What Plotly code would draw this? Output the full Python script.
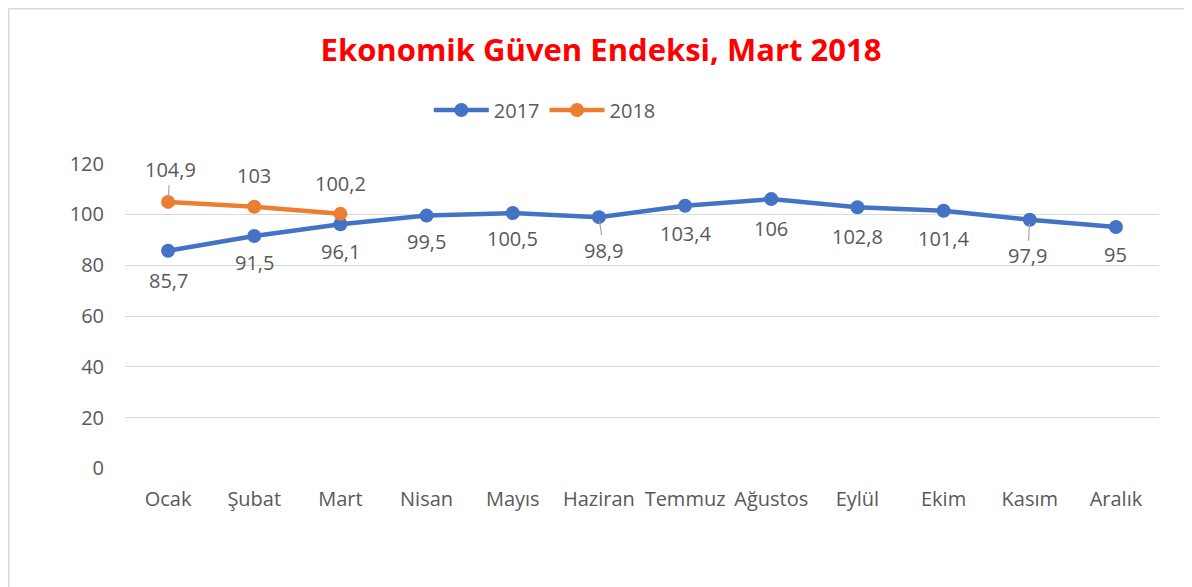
import plotly.graph_objects as go

months = ["Ocak", "Şubat", "Mart", "Nisan", "Mayıs", "Haziran", "Temmuz",
          "Ağustos", "Eylül", "Ekim", "Kasım", "Aralık"]
values_2017 = [85.7, 91.5, 96.1, 99.5, 100.5, 98.9, 103.4, 106, 102.8, 101.4, 97.9, 95]
values_2018 = [104.9, 103, 100.2]
y_ticks = [0, 20, 40, 60, 80, 100, 120]

BLUE = "#4472C4"
ORANGE = "#ED7D31"
TXT = "#595959"
FONT = "'Open Sans', sans-serif"

def fmt(v):
    s = ("%g" % v)
    return s.replace(".", ",")

fig = go.Figure()
fig.add_trace(go.Scatter(x=months, y=values_2017, name="2017", mode="lines+markers",
                         line=dict(color=BLUE, width=4.5),
                         marker=dict(size=14, color=BLUE)))
fig.add_trace(go.Scatter(x=months[:len(values_2018)], y=values_2018, name="2018",
                         mode="lines+markers",
                         line=dict(color=ORANGE, width=4.5),
                         marker=dict(size=14, color=ORANGE)))

# label offsets (pixels) and leader-line flags
off_2017 = [(0, 30), (0, 27), (0, 27), (0, 26), (0, 25), (5, 33), (0, 28),
            (0, 29), (0, 29), (0, 28), (-2, 36), (0, 27)]
lead_2017 = [False, False, False, False, False, True, False, False, False, False, True, False]
off_2018 = [(2, -32), (0, -31), (0, -30)]
lead_2018 = [True, False, False]

anns = []
for m, v, (dx, dy), ld in zip(months, values_2017, off_2017, lead_2017):
    anns.append(dict(x=m, y=v, text=fmt(v), showarrow=True, ax=dx, ay=dy,
                     arrowhead=0, arrowwidth=1.2, standoff=4,
                     arrowcolor="#a6a6a6" if ld else "rgba(0,0,0,0)",
                     font=dict(size=20, color=TXT, family=FONT)))
for m, v, (dx, dy), ld in zip(months, values_2018, off_2018, lead_2018):
    anns.append(dict(x=m, y=v, text=fmt(v), showarrow=True, ax=dx, ay=dy,
                     arrowhead=0, arrowwidth=1.2, standoff=4,
                     arrowcolor="#a6a6a6" if ld else "rgba(0,0,0,0)",
                     font=dict(size=20, color=TXT, family=FONT)))

# page body has an 8px offset; figure coordinates are screen minus 8
fig.update_layout(
    width=1192, height=587,
    margin=dict(l=117, r=41, t=155, b=126),
    paper_bgcolor="white", plot_bgcolor="white",
    font=dict(family=FONT, color=TXT, size=20),
    title=dict(text="<b>Ekonomik Güven Endeksi, Mart 2018</b>",
               x=(601 - 8) / 1192, xanchor="center", y=1 - 42 / 587, yanchor="middle",
               font=dict(size=31, color="#FF0000", family=FONT)),
    legend=dict(orientation="h", x=0.406, xanchor="center", y=1.173, yanchor="middle",
                font=dict(size=20, color=TXT), itemwidth=55, bgcolor="rgba(0,0,0,0)"),
    xaxis=dict(range=[-0.5, len(months) - 0.5], showgrid=False, showline=False, ticks="",
               tickfont=dict(size=20, color=TXT), ticklabelstandoff=16),
    yaxis=dict(range=[-0.2, 120.2], tickvals=y_ticks, showgrid=True, gridcolor="#d9d9d9",
               gridwidth=1, zeroline=False, showline=False, ticks="",
               tickfont=dict(size=20, color=TXT), ticklabelstandoff=20),
    annotations=anns,
    shapes=[dict(type="rect", xref="paper", yref="paper",
                 x0=(0.5 - 117) / 1034, x1=1.2,
                 y0=-0.5, y1=(461 - 0.5) / 306,
                 line=dict(color="#d9d9d9", width=2), fillcolor="rgba(0,0,0,0)",
                 layer="below")],
)

fig.write_html("out.html")
